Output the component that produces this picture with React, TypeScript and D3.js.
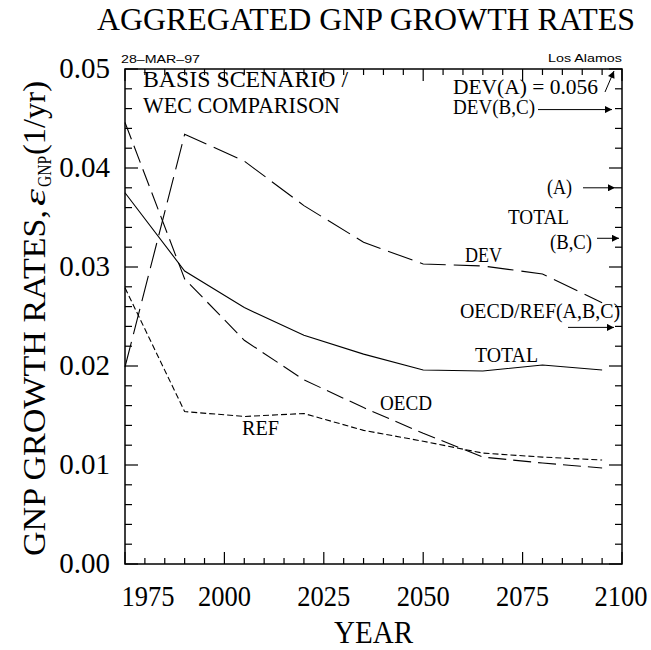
import React from 'react';
import * as d3 from 'd3';

const years = [1975, 1990, 2005, 2020, 2035, 2050, 2065, 2080, 2095];
const totalRates = [0.0375, 0.0296, 0.0259, 0.0231, 0.0212, 0.0196, 0.0195, 0.0201, 0.0196];
const devRates = [0.0199, 0.0434, 0.0407, 0.0362, 0.0325, 0.0303, 0.0301, 0.0293, 0.0264];
const oecdRates = [0.0446, 0.0288, 0.0226, 0.0186, 0.0158, 0.0132, 0.0108, 0.0102, 0.0097];
const refRates = [0.0279, 0.0154, 0.0149, 0.0152, 0.0135, 0.0124, 0.0112, 0.0108, 0.0105];

const xTickYears = [1975, 2000, 2025, 2050, 2075, 2100];
const xTickLabels = ['1975', '2000', '2025', '2050', '2075', '2100'];
const yTickValues = [0, 0.01, 0.02, 0.03, 0.04, 0.05];
const yTickLabels = ['0.00', '0.01', '0.02', '0.03', '0.04', '0.05'];

// right-margin arrows (value at year 2100)
const arrowLabels = ['DEV(B,C)', '(A)', '(B,C)', 'OECD/REF(A,B,C)'];
const arrowValues = [0.0459, 0.0380, 0.0329, 0.0239];

const W = 651, H = 650;
const L = 125, R = 622, T = 69, B = 564;
const serif = 'Liberation Serif';
const sans = 'Liberation Sans';

export default function App() {
  const x = d3.scaleLinear().domain([1975, 2100]).range([L, R]);
  const y = d3.scaleLinear().domain([0, 0.05]).range([B, T]);
  const line = d3.line<number>().x((_, i) => x(years[i])).y((d) => y(d));

  const minorX = d3.range(1975, 2100.1, 5);
  const minorY = d3.range(0, 0.05001, 0.002);

  const series = [
    { vals: totalRates, dash: 'none' },
    { vals: devRates, dash: '26,8' },
    { vals: oecdRates, dash: '18,7' },
    { vals: refRates, dash: '6,3' },
  ];

  const arrowX = [
    { x1: 538, x2: 612 },
    { x1: 583, x2: 615 },
    { x1: 597, x2: 619 },
    { x1: 568, x2: 614 },
  ];

  return (
    <div style={{ position: 'absolute', left: 0, top: 0 }}>
      <svg width={W} height={H} style={{ display: 'block', background: '#fff' }}>
        <defs>
          <marker id="ah" viewBox="0 0 10 10" refX="10" refY="5" markerWidth="10" markerHeight="7" markerUnits="userSpaceOnUse" orient="auto">
            <path d="M0,0 L10,5 L0,10 z" fill="#000" />
          </marker>
        </defs>
        {/* title */}
        <text x={97} y={30} fontFamily={serif} fontSize={32} textLength={538} lengthAdjust="spacingAndGlyphs">AGGREGATED GNP GROWTH RATES</text>
        <text x={121} y={63} fontFamily={sans} fontSize={11} textLength={79} lengthAdjust="spacingAndGlyphs">28–MAR–97</text>
        <text x={548} y={62} fontFamily={sans} fontSize={11} textLength={74} lengthAdjust="spacingAndGlyphs">Los Alamos</text>

        {/* frame */}
        <rect x={L} y={T} width={R - L} height={B - T} fill="none" stroke="#000" strokeWidth={1.5} />
        {minorX.map((yr) => {
          const major = xTickYears.includes(yr);
          const len = major ? 12 : 6;
          return (
            <g key={'x' + yr}>
              <line x1={x(yr)} x2={x(yr)} y1={B} y2={B - len} stroke="#000" strokeWidth={1.2} />
              <line x1={x(yr)} x2={x(yr)} y1={T} y2={T + len} stroke="#000" strokeWidth={1.2} />
            </g>
          );
        })}
        {minorY.map((v, i) => {
          const major = i % 5 === 0;
          const len = major ? 13 : 7;
          return (
            <g key={'y' + i}>
              <line x1={L} x2={L + len} y1={y(v)} y2={y(v)} stroke="#000" strokeWidth={1.2} />
              <line x1={R} x2={R - len} y1={y(v)} y2={y(v)} stroke="#000" strokeWidth={1.2} />
            </g>
          );
        })}

        {/* tick labels */}
        {yTickValues.map((v, i) => (
          <text key={'yl' + i} x={110} y={y(v) + 9} textAnchor="end" fontFamily={serif} fontSize={29}>{yTickLabels[i]}</text>
        ))}
        {xTickYears.map((yr, i) => (
          <text key={'xl' + i} x={i === 0 ? x(yr) + 23 : i === 5 ? x(yr) - 1 : x(yr)} y={606} textAnchor="middle" fontFamily={serif} fontSize={29} textLength={53} lengthAdjust="spacingAndGlyphs">{xTickLabels[i]}</text>
        ))}

        {/* axis titles */}
        <text x={334} y={643} fontFamily={serif} fontSize={32} textLength={79} lengthAdjust="spacingAndGlyphs">YEAR</text>
        <g transform="translate(45,316) rotate(-90)" fontFamily={serif}>
          <text x={-240} y={0} fontSize={32} textLength={346} lengthAdjust="spacingAndGlyphs">GNP GROWTH RATES,</text>
          <text x={110} y={0} fontSize={30} fontStyle="italic" textLength={17} lengthAdjust="spacingAndGlyphs">ε</text>
          <text x={129} y={6} fontSize={19} textLength={31} lengthAdjust="spacingAndGlyphs">GNP</text>
          <text x={161} y={0} fontSize={32} textLength={74} lengthAdjust="spacingAndGlyphs">(1/yr)</text>
        </g>

        {/* series */}
        {series.map((s, i) => (
          <path key={'s' + i} d={line(s.vals) || ''} fill="none" stroke="#000" strokeWidth={1.1} strokeDasharray={s.dash} />
        ))}

        {/* inner labels */}
        <text x={143} y={87} fontFamily={serif} fontSize={24} textLength={205} lengthAdjust="spacingAndGlyphs">BASIS SCENARIO /</text>
        <text x={143} y={113} fontFamily={serif} fontSize={24} textLength={197} lengthAdjust="spacingAndGlyphs">WEC COMPARISON</text>

        <text x={453} y={94} fontFamily={serif} fontSize={20} textLength={145} lengthAdjust="spacingAndGlyphs">DEV(A) = 0.056</text>
        <line x1={605} y1={92} x2={614} y2={71} stroke="#000" strokeWidth={1} markerEnd="url(#ah)" />
        <text x={453} y={114} fontFamily={serif} fontSize={20} textLength={82} lengthAdjust="spacingAndGlyphs">DEV(B,C)</text>
        <text x={547} y={194} fontFamily={serif} fontSize={20} textLength={25} lengthAdjust="spacingAndGlyphs">(A)</text>
        <text x={508} y={224} fontFamily={serif} fontSize={20} textLength={61} lengthAdjust="spacingAndGlyphs">TOTAL</text>
        <text x={550} y={249} fontFamily={serif} fontSize={20} textLength={42} lengthAdjust="spacingAndGlyphs">(B,C)</text>
        <text x={465} y={262} fontFamily={serif} fontSize={20} textLength={37} lengthAdjust="spacingAndGlyphs">DEV</text>
        <text x={460} y={318} fontFamily={serif} fontSize={20} textLength={160} lengthAdjust="spacingAndGlyphs">OECD/REF(A,B,C)</text>
        <text x={475} y={362} fontFamily={serif} fontSize={20} textLength={63} lengthAdjust="spacingAndGlyphs">TOTAL</text>
        <text x={380} y={410} fontFamily={serif} fontSize={20} textLength={52} lengthAdjust="spacingAndGlyphs">OECD</text>
        <text x={242} y={435} fontFamily={serif} fontSize={20} textLength={37} lengthAdjust="spacingAndGlyphs">REF</text>

        {arrowValues.map((v, i) => (
          <line key={'ar' + i} x1={arrowX[i].x1} x2={arrowX[i].x2} y1={y(v)} y2={y(v)} stroke="#000" strokeWidth={1} markerEnd="url(#ah)">
            <title>{arrowLabels[i]}</title>
          </line>
        ))}
      </svg>
    </div>
  );
}
